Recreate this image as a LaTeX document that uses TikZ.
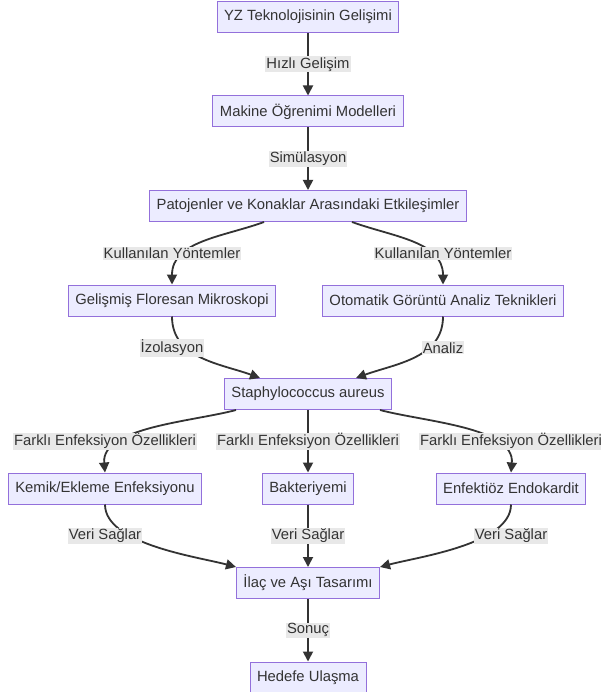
\documentclass[tikz,border=0pt]{standalone}
\usepackage{fontspec}
\setmainfont{Liberation Sans}
\usepackage{tikz}
\usetikzlibrary{positioning,arrows.meta}
\definecolor{mmdfill}{HTML}{ECECFF}
\definecolor{mmdline}{HTML}{9370DB}
\definecolor{mmdtext}{HTML}{333333}
\definecolor{mmdlabel}{HTML}{E8E8E8}

\begin{document}
\begin{tikzpicture}[
    box/.style={rectangle,draw=mmdline,fill=mmdfill,line width=1pt,
                minimum height=31pt,inner xsep=7pt,text=mmdtext,
                font=\fontsize{14.8pt}{17pt}\selectfont},
    lbl/.style={rectangle,fill=mmdlabel,inner sep=1pt,text=mmdtext,
                font=\fontsize{14.8pt}{17pt}\selectfont},
    edge/.style={draw=mmdtext,line width=1.8pt,
                 -{Triangle[length=10pt,width=10pt]}}]
  \fill[white] (0,0) rectangle (601pt,-692pt);
  \useasboundingbox (0,0) rectangle (601pt,-692pt);

  % boxes
  \node[box] (yz) at (308pt,-17pt) {YZ Teknolojisinin Gelişimi};
  \node[box,below=62.5pt of yz] (ml) {Makine Öğrenimi Modelleri};
  \node[box,below=62.5pt of ml] (pk) {Patojenler ve Konaklar Arasındaki Etkileşimler};
  \node[box,below=62.5pt of pk,xshift=-136pt] (fm) {Gelişmiş Floresan Mikroskopi};
  \node[box,below=62.5pt of pk,xshift=135pt] (ga) {Otomatik Görüntü Analiz Teknikleri};
  \node[box,below=156pt of pk] (sa) {Staphylococcus aureus};
  \node[box,below=62.5pt of sa,xshift=-203pt] (ke) {Kemik/Ekleme Enfeksiyonu};
  \node[box,below=62.5pt of sa] (bk) {Bakteriyemi};
  \node[box,below=62.5pt of sa,xshift=203pt] (ee) {Enfektiöz Endokardit};
  \node[box,below=62.5pt of bk] (ia) {İlaç ve Aşı Tasarımı};
  \node[box,below=62.5pt of ia] (hu) {Hedefe Ulaşma};

  % connectors
  \draw[edge] (yz) -- (ml);
  \draw[edge] (ml) -- (pk);
  \draw[edge] ([xshift=-44pt]pk.south) to[out=-160,in=90] (fm.north);
  \draw[edge] ([xshift=44pt]pk.south) to[out=-20,in=90] (ga.north);
  \draw[edge] (fm.south) to[out=-90,in=160] ([xshift=-48pt]sa.north);
  \draw[edge] (ga.south) to[out=-90,in=20] ([xshift=48pt]sa.north);
  \draw[edge] ([xshift=-72pt]sa.south) to[out=-165,in=95,looseness=0.8] (ke.north);
  \draw[edge] (sa) -- (bk);
  \draw[edge] ([xshift=72pt]sa.south) to[out=-15,in=85,looseness=0.8] (ee.north);
  \draw[edge] (ke.south) to[out=-90,in=165,looseness=0.7] (ia.north west);
  \draw[edge] (bk) -- (ia);
  \draw[edge] (ee.south) to[out=-90,in=15,looseness=0.7] (ia.north east);
  \draw[edge] (ia) -- (hu);

  % edge labels
  \node[lbl] (lhg) at ([yshift=-31.25pt]yz.south) {Hızlı Gelişim};
  \node[lbl] (lsim) at ([yshift=-31.25pt]ml.south) {Simülasyon};
  \node[lbl] (lky1) at ([yshift=31.25pt]fm.north) {Kullanılan Yöntemler};
  \node[lbl] (lky2) at ([yshift=31.25pt]ga.north) {Kullanılan Yöntemler};
  \node[lbl] (liz) at ([yshift=-31.25pt]fm.south) {İzolasyon};
  \node[lbl] (lan) at ([yshift=-31.25pt]ga.south) {Analiz};
  \node[lbl] (lfe1) at ([yshift=31.25pt]ke.north) {Farklı Enfeksiyon Özellikleri};
  \node[lbl] (lfe2) at ([yshift=31.25pt]bk.north) {Farklı Enfeksiyon Özellikleri};
  \node[lbl] (lfe3) at ([yshift=31.25pt]ee.north) {Farklı Enfeksiyon Özellikleri};
  \node[lbl] (lvs1) at ([yshift=-31.25pt]ke.south) {Veri Sağlar};
  \node[lbl] (lvs2) at ([yshift=-31.25pt]bk.south) {Veri Sağlar};
  \node[lbl] (lvs3) at ([yshift=-31.25pt]ee.south) {Veri Sağlar};
  \node[lbl] (lsn) at ([yshift=-31.25pt]ia.south) {Sonuç};
\end{tikzpicture}
\end{document}
